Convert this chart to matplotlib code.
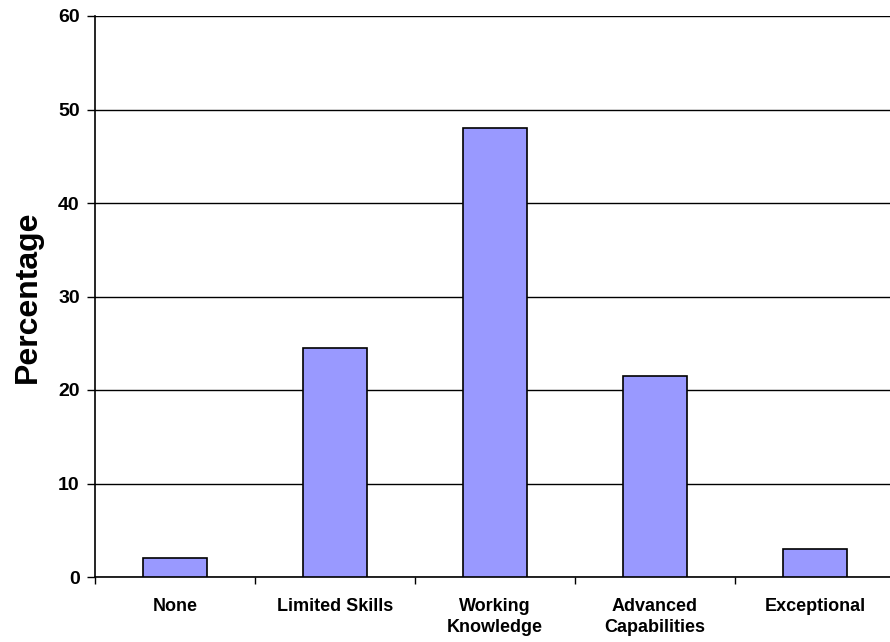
import matplotlib.pyplot as plt
import numpy as np

plt.rcParams['font.family'] = ['Liberation Sans', 'DejaVu Sans']

# data
categories = ["None", "Limited Skills", "Working\nKnowledge", "Advanced\nCapabilities", "Exceptional"]
percentages = [2.0, 24.5, 48.0, 21.5, 3.0]
y_ticks = [0, 10, 20, 30, 40, 50, 60]

fig = plt.figure(figsize=(8.9, 6.42), dpi=100)
# plot area runs a little past the right edge of the picture
ax = fig.add_axes([95 / 890, 1 - 577 / 642, 800 / 890, 561 / 642])

x = np.arange(len(categories))
ax.bar(x, percentages, width=0.4, color="#9999FF", edgecolor="black", linewidth=1.2, zorder=3)

ax.set_xlim(-0.5, len(categories) - 0.5)
ax.set_ylim(0, 60)
ax.set_yticks(y_ticks)
ax.yaxis.grid(True, color="black", linewidth=1.0, zorder=0)

# category ticks sit between the bars, labels centred under them
ax.set_xticks(np.arange(len(categories) + 1) - 0.5)
ax.set_xticklabels([])
ax.set_xticks(x, minor=True)
ax.set_xticklabels(categories, minor=True, fontsize=13, fontweight="bold",
                   va="top", linespacing=1.35)
ax.tick_params(axis="x", which="minor", length=0, pad=15)
ax.tick_params(axis="x", which="major", length=5, width=1, direction="out")
ax.tick_params(axis="y", length=6, width=1, direction="out", labelsize=14, pad=5)
for lbl in ax.get_yticklabels():
    lbl.set_fontweight("bold")

for side in ["top", "right"]:
    ax.spines[side].set_visible(False)
ax.spines["left"].set_linewidth(1.2)
ax.spines["bottom"].set_linewidth(1.2)

ax.set_ylabel("Percentage", fontsize=23, fontweight="bold", labelpad=11)

fig.savefig("out.png", dpi=100)
